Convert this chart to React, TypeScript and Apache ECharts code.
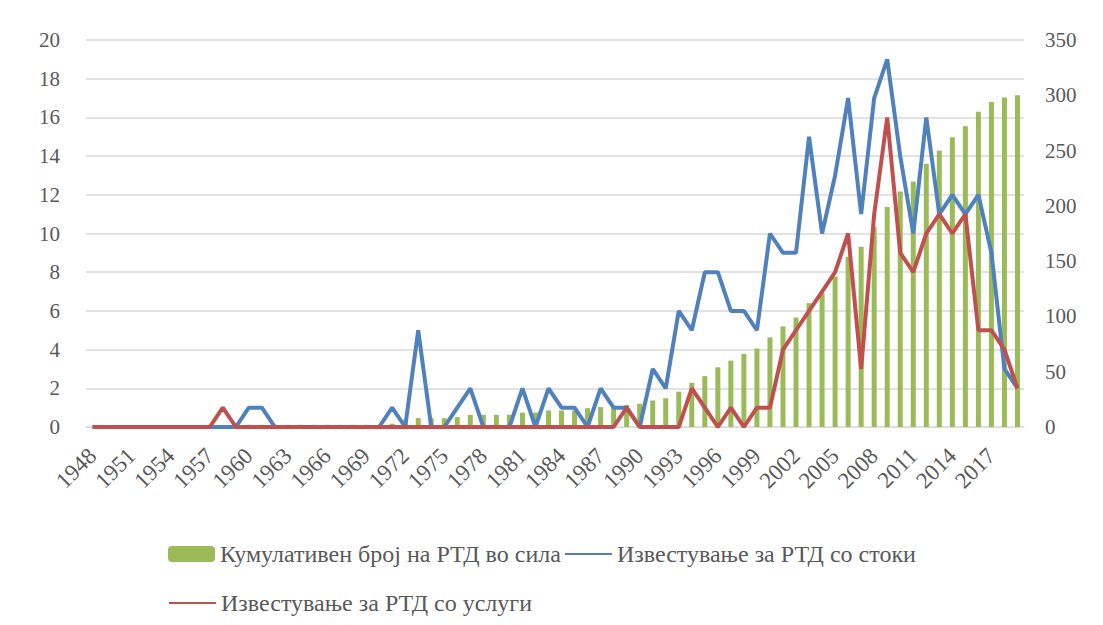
import React, { useEffect, useRef } from "react";
import * as echarts from "echarts";

const years = [
  "1948","1949","1950","1951","1952","1953","1954","1955","1956","1957",
  "1958","1959","1960","1961","1962","1963","1964","1965","1966","1967",
  "1968","1969","1970","1971","1972","1973","1974","1975","1976","1977",
  "1978","1979","1980","1981","1982","1983","1984","1985","1986","1987",
  "1988","1989","1990","1991","1992","1993","1994","1995","1996","1997",
  "1998","1999","2000","2001","2002","2003","2004","2005","2006","2007",
  "2008","2009","2010","2011","2012","2013","2014","2015","2016","2017",
  "2018","2019",
];

const cumulative = [
  0,0,0,0,0,0,0,0,0,0,
  1,1,2,2,2,2,2,2,2,2,
  2,2,2,3,6,8,8,8,9,11,
  11,11,11,13,13,15,15,15,17,18,
  19,20,21,24,26,32,40,46,54,60,
  66,71,81,91,99,112,121,136,154,163,
  181,199,213,222,238,250,262,272,285,294,
  298,300,
];

const goods = [
  0,0,0,0,0,0,0,0,0,0,
  0,0,1,1,0,0,0,0,0,0,
  0,0,0,1,0,5,0,0,1,2,
  0,0,0,2,0,2,1,1,0,2,
  1,1,0,3,2,6,5,8,8,6,
  6,5,10,9,9,15,10,13,17,11,
  17,19,14,10,16,11,12,11,12,9,
  3,2,
];

const services = [
  0,0,0,0,0,0,0,0,0,0,
  1,0,0,0,0,0,0,0,0,0,
  0,0,0,0,0,0,0,0,0,0,
  0,0,0,0,0,0,0,0,0,0,
  0,1,0,0,0,0,2,1,0,1,
  0,1,1,4,5,6,7,8,10,3,
  11,16,9,8,10,11,10,11,5,5,
  4,2,
];

const leftTicks = { min: 0, max: 20, interval: 2 };
const rightTicks = { min: 0, max: 350, interval: 50 };

const nameBars = "Кумулативен број на РТД во сила";
const nameGoods = "Известување за РТД со стоки";
const nameServices = "Известување за РТД со услуги";

const FONT = "Times New Roman, Liberation Serif, serif";
const TEXT = "#595959";

export default function App() {
  const ref = useRef<HTMLDivElement>(null);
  useEffect(() => {
    if (!ref.current) return;
    const chart = echarts.init(ref.current, null, { renderer: "svg" });
    const legendText = { fontFamily: FONT, fontSize: 24, color: TEXT };
    chart.setOption({
      animation: false,
      backgroundColor: "#ffffff",
      textStyle: { fontFamily: FONT, color: TEXT },
      grid: { left: 86, right: 79, top: 40, bottom: 198 },
      legend: [
        {
          data: [
            { name: nameBars },
            { name: nameGoods, itemStyle: { opacity: 0 } },
          ],
          left: 163,
          top: 537,
          itemWidth: 47,
          itemHeight: 16,
          itemGap: 3,
          textStyle: legendText,
        },
        {
          data: [{ name: nameServices, itemStyle: { opacity: 0 } }],
          left: 163,
          top: 586,
          itemWidth: 47,
          itemHeight: 16,
          itemGap: 3,
          textStyle: legendText,
        },
      ],
      xAxis: {
        type: "category",
        data: years,
        boundaryGap: true,
        axisLine: { show: true, lineStyle: { color: "#D9D9D9", width: 1 } },
        axisTick: { show: false },
        axisLabel: {
          interval: 2,
          rotate: 45,
          margin: 25,
          fontFamily: FONT,
          fontSize: 23,
          color: TEXT,
        },
      },
      yAxis: [
        {
          type: "value",
          ...leftTicks,
          axisLine: { show: false },
          axisTick: { show: false },
          splitLine: { lineStyle: { color: "#D9D9D9", width: 1.5 } },
          axisLabel: { margin: 26, fontFamily: FONT, fontSize: 21, color: TEXT },
        },
        {
          type: "value",
          ...rightTicks,
          position: "right",
          axisLine: { show: false },
          axisTick: { show: false },
          splitLine: { show: false },
          axisLabel: { margin: 21, fontFamily: FONT, fontSize: 21, color: TEXT },
        },
      ],
      series: [
        {
          name: nameBars,
          type: "bar",
          yAxisIndex: 1,
          data: cumulative,
          barWidth: 5,
          itemStyle: { color: "#9BBB59" },
        },
        {
          name: nameGoods,
          type: "line",
          yAxisIndex: 0,
          data: goods,
          symbol: "none",
          lineStyle: { color: "#4F81BD", width: 4 },
          itemStyle: { color: "#4F81BD" },
        },
        {
          name: nameServices,
          type: "line",
          yAxisIndex: 0,
          data: services,
          symbol: "none",
          lineStyle: { color: "#C0504D", width: 4 },
          itemStyle: { color: "#C0504D" },
        },
      ],
    });
    return () => chart.dispose();
  }, []);
  return (
    <div
      ref={ref}
      style={{ position: "absolute", left: 0, top: 0, width: 1103, height: 625 }}
    />
  );
}
